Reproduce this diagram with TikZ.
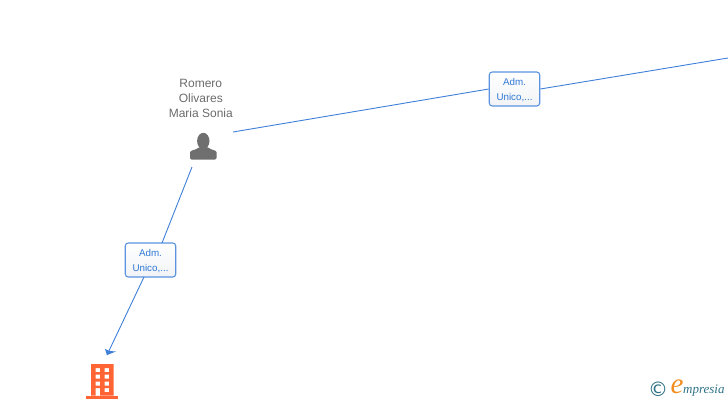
\documentclass[tikz,border=0pt]{standalone}
\usepackage{fontspec}
\setmainfont{Liberation Sans}
\newfontfamily\logofont{Liberation Serif}
\newfontfamily\logosans{DejaVu Sans}
\definecolor{linkblue}{HTML}{3F7FD8}
\definecolor{boxblue}{HTML}{5B93E0}
\definecolor{labelblue}{HTML}{2F78D6}
\definecolor{persongrey}{HTML}{6F6F6F}
\definecolor{buildorange}{HTML}{FF6534}
\definecolor{logoteal}{HTML}{2E7286}
\definecolor{logoorange}{HTML}{F28C1E}
\definecolor{boxbottom}{HTML}{F1F3F6}
\newcommand{\boxtext}{\rule{0pt}{9.5pt}Adm.\\Unico,...}
\tikzset{
  relbox/.style={draw=boxblue,line width=1.1pt,rounded corners=3pt,minimum width=50.5pt,minimum height=34pt,inner sep=0pt,top color=white,bottom color=boxbottom,align=center,font=\fontsize{9.8}{15.5}\selectfont,text=labelblue},
  link/.style={draw=linkblue,line width=0.9pt},
  personlabel/.style={align=center,font=\fontsize{12}{15}\selectfont,text=black!58,inner sep=0pt},
}
\begin{document}
\begin{tikzpicture}[x=1pt,y=-1pt]
\useasboundingbox (0,0) rectangle (728,400);
\node[personlabel] (name) at (200.8,98) {Romero\\Olivares\\Maria Sonia};
% person icon
\fill[persongrey] (203.3,141) ellipse (6.2 and 8.2);
\fill[persongrey,rounded corners=1.5pt] (190,159.5) -- (190,154) .. controls (190,150) and (196,150) .. (199,147) -- (208,147) .. controls (211,150) and (216.7,150) .. (216.7,154) -- (216.7,159.5) -- cycle;
\coordinate (p1) at (233,132);
\coordinate (p2) at (192,167);
\coordinate (right) at (728,58);
\coordinate (tip) at (107,355);
\node[relbox] (b1) at (514.5,89) {\boxtext};
\node[relbox] (b2) at (150.5,260) {\boxtext};
\draw[link] (p1) -- (b1.west);
\draw[link] (b1.east) -- (right);
\draw[link] (p2) -- (162,243);
\draw[link] (144,277) -- (tip);
\fill[linkblue] (tip) -- (105,349) -- (109.5,351) -- (116,351.5) -- cycle;
% building icon
\fill[buildorange,even odd rule] (91,364) rectangle (113.7,395.5)
 (95.5,368) rectangle (100,372) (104.5,368) rectangle (109,372)
 (95.5,374.7) rectangle (100,378.7) (104.5,374.7) rectangle (109,378.7)
 (95.5,381.5) rectangle (100,385.5) (104.5,381.5) rectangle (109,385.5)
 (95.5,388) rectangle (100,395.5) (104.5,388) rectangle (109,392);
\fill[buildorange] (86,395.5) rectangle (118,398.5);
% logo
\node[inner sep=0pt,text=logoteal,font=\logosans\fontsize{20}{20}\selectfont] (copy) at (658,389) {©};
\node[inner sep=0pt,text=logoorange,font=\logofont\itshape\fontsize{29}{29}\selectfont] (e) at (677,386.5) {e};
\node[inner sep=0pt,anchor=base west,text=logoteal,font=\logofont\itshape\fontsize{13}{13}\selectfont] (mp) at (683,393) {mpresia};
\end{tikzpicture}
\end{document}
